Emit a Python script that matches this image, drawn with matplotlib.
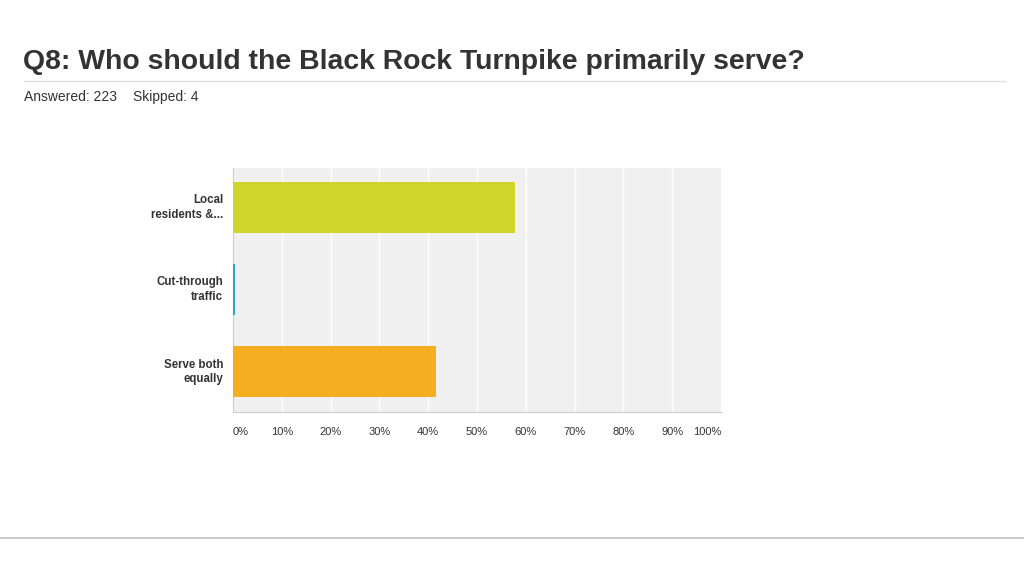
import matplotlib.pyplot as plt
import numpy as np

plt.rcParams['font.family'] = ['Liberation Sans', 'DejaVu Sans']

title = "Q8: Who should the Black Rock Turnpike primarily serve?"
subtitle_answered = "Answered: 223"
subtitle_skipped = "Skipped: 4"
categories = ["Local\nresidents &...", "Cut-through\ntraffic", "Serve both\nequally"]
values = [57.85, 0.45, 41.70]
colors = ["#cfd52a", "#2ba8bd", "#f5ae1f"]
ticks = [0, 10, 20, 30, 40, 50, 60, 70, 80, 90, 100]
tick_labels = [f"{t}%" for t in ticks]

fig = plt.figure(figsize=(10.24, 5.76), dpi=100)
fig.patch.set_facecolor("white")

fig.text(23/1024, 1 - 62/576, title, fontsize=20.4, fontweight="bold",
         color="#333333", va="center", ha="left")
fig.text(24/1024, 1 - 97/576, subtitle_answered, fontsize=10,
         color="#333333", va="center", ha="left")
fig.text(133/1024, 1 - 97/576, subtitle_skipped, fontsize=10,
         color="#333333", va="center", ha="left")
fig.add_artist(plt.Line2D([24/1024, 1005/1024], [1 - 81/576, 1 - 81/576],
                          color="#dddddd", lw=1))
fig.add_artist(plt.Line2D([0, 1], [1 - 538/576, 1 - 538/576],
                          color="#cccccc", lw=1.5))

ax = fig.add_axes([233/1024, 1 - 412/576, 488/1024, 244/576])
ax.set_facecolor("#f0f0f0")
y = np.arange(len(categories))
ax.barh(y, values, height=0.62, color=colors, zorder=3)
ax.set_xlim(0, 100)
ax.set_ylim(2.49, -0.48)

ax.set_xticks(ticks)
ax.xaxis.grid(True, color="white", lw=1, zorder=1)
ax.set_axisbelow(True)
ax.tick_params(axis="both", length=0)
ax.set_xticklabels(tick_labels, fontsize=8, color="#333333")
for lbl, t in zip(ax.get_xticklabels(), ticks):
    if t == 0:
        lbl.set_ha("left")
    elif t == 100:
        lbl.set_ha("right")
ax.tick_params(axis="x", pad=11)

ax.set_yticks(y)
ax.set_yticklabels(categories, fontsize=8.3, fontweight="bold",
                   color="#333333", ha="right", va="center", linespacing=1.25)
ax.tick_params(axis="y", pad=7)

for side in ["top", "right"]:
    ax.spines[side].set_visible(False)
ax.spines["left"].set_color("#cccccc")
ax.spines["bottom"].set_color("#cccccc")

fig.savefig("out.png", dpi=100)
